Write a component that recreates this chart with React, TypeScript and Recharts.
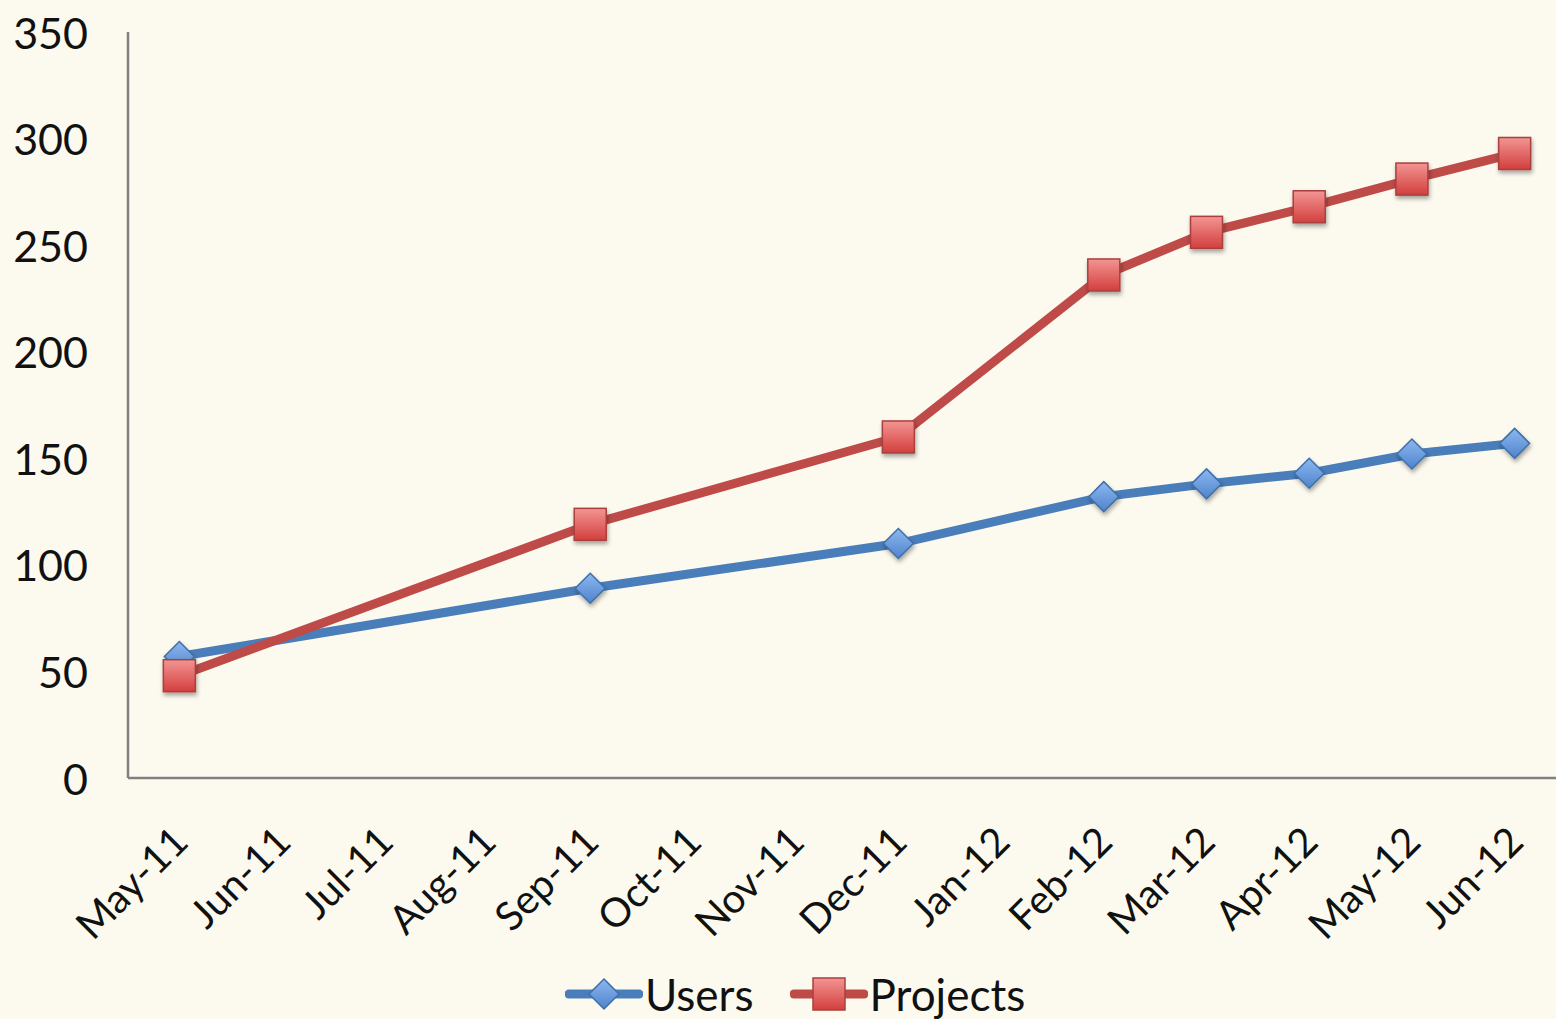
import React from 'react';
import { LineChart, Line, XAxis, YAxis, Legend } from 'recharts';

const months = ['May-11','Jun-11','Jul-11','Aug-11','Sep-11','Oct-11','Nov-11','Dec-11','Jan-12','Feb-12','Mar-12','Apr-12','May-12','Jun-12'];
const users: (number | null)[] = [57, null, null, null, 89, null, null, 110, null, 132, 138, 143, 152, 157];
const projects: (number | null)[] = [48, null, null, null, 119, null, null, 160, null, 236, 256, 268, 281, 293];
const yTicks = [0, 50, 100, 150, 200, 250, 300, 350];

const data = months.map((m, i) => ({ month: m, Users: users[i], Projects: projects[i] }));

const FONT = 'Lato, "Open Sans", sans-serif';
const BLUE = '#4A7EBB';
const RED = '#BE4B48';

const XTick = (props: any) => {
  const { x, y, payload } = props;
  const ax = x + 11;
  const ay = y + 66;
  return (
    <text x={ax} y={ay} textAnchor="end" transform={`rotate(-45, ${ax}, ${ay})`} fill="#111" fontSize={40} fontFamily={FONT}>
      {payload.value}
    </text>
  );
};

const YTick = (props: any) => {
  const { x, y, payload } = props;
  return (
    <text x={x - 40} y={y} textAnchor="end" dominantBaseline="central" fill="#111" fontSize={43} fontFamily={FONT}>
      {payload.value}
    </text>
  );
};

const Diamond = ({ cx, cy, s = 15 }: { cx: number; cy: number; s?: number }) => (
  <path
    d={`M${cx},${cy - s} L${cx + s},${cy} L${cx},${cy + s} L${cx - s},${cy} Z`}
    fill="url(#gBlue)"
    stroke="#3F6FA8"
    strokeWidth={1.5}
    filter="url(#shadow)"
  />
);

const Square = ({ cx, cy, s = 16 }: { cx: number; cy: number; s?: number }) => (
  <rect x={cx - s} y={cy - s} width={2 * s} height={2 * s} fill="url(#gRed)" stroke="#A9403E" strokeWidth={1.5} filter="url(#shadow)" />
);

const renderDiamond = (p: any) => {
  if (p.cy == null || p.value == null) return <g key={p.key ?? `d${p.index}`} />;
  return <Diamond key={p.key ?? `d${p.index}`} cx={p.cx} cy={p.cy} />;
};

const renderSquare = (p: any) => {
  if (p.cy == null || p.value == null) return <g key={p.key ?? `s${p.index}`} />;
  return <Square key={p.key ?? `s${p.index}`} cx={p.cx} cy={p.cy} />;
};

const LegendContent = () => (
  <div style={{ display: 'flex', alignItems: 'center', fontFamily: FONT, fontSize: 44, color: '#111', lineHeight: 1 }}>
    <svg width={78} height={40} style={{ display: 'block' }}>
      <defs>
        <linearGradient id="lgBlue" x1="0" y1="0" x2="0" y2="1">
          <stop offset="0%" stopColor="#8DB8F0" />
          <stop offset="100%" stopColor="#4F83CC" />
        </linearGradient>
        <linearGradient id="lgRed" x1="0" y1="0" x2="0" y2="1">
          <stop offset="0%" stopColor="#F29593" />
          <stop offset="100%" stopColor="#D23F3D" />
        </linearGradient>
      </defs>
      <line x1={4} y1={20} x2={74} y2={20} stroke={BLUE} strokeWidth={9} strokeLinecap="round" />
      <path d="M39,5 L54,20 L39,35 L24,20 Z" fill="url(#lgBlue)" stroke="#3F6FA8" strokeWidth={1.5} />
    </svg>
    <span style={{ marginLeft: 2, marginRight: 36 }}>Users</span>
    <svg width={78} height={40} style={{ display: 'block' }}>
      <line x1={4} y1={20} x2={74} y2={20} stroke={RED} strokeWidth={9} strokeLinecap="round" />
      <rect x={23} y={4} width={32} height={32} fill="url(#lgRed)" stroke="#A9403E" strokeWidth={1.5} />
    </svg>
    <span style={{ marginLeft: 2 }}>Projects</span>
  </div>
);

export default function App() {
  return (
    <div style={{ position: 'fixed', left: 0, top: 0, width: 1556, height: 1019, overflow: 'hidden', background: '#FCFAEF' }}>
      <LineChart width={1566} height={1019} data={data} margin={{ top: 32, right: 0, bottom: 61, left: 0 }}>
        <defs>
          <linearGradient id="gBlue" x1="0" y1="0" x2="0" y2="1">
            <stop offset="0%" stopColor="#8DB8F0" />
            <stop offset="100%" stopColor="#4F83CC" />
          </linearGradient>
          <linearGradient id="gRed" x1="0" y1="0" x2="0" y2="1">
            <stop offset="0%" stopColor="#F29593" />
            <stop offset="100%" stopColor="#D23F3D" />
          </linearGradient>
          <filter id="shadow" x="-50%" y="-50%" width="200%" height="200%">
            <feDropShadow dx="1" dy="3" stdDeviation="2" floodColor="#000" floodOpacity="0.35" />
          </filter>
        </defs>
        <XAxis
          dataKey="month"
          scale="band"
          height={180}
          interval={0}
          tickLine={false}
          tickSize={0}
          tickMargin={0}
          axisLine={{ stroke: '#808080', strokeWidth: 2.5 }}
          tick={<XTick />}
        />
        <YAxis
          domain={[0, 350]}
          ticks={yTicks}
          width={128}
          tickLine={false}
          tickSize={0}
          tickMargin={0}
          axisLine={{ stroke: '#808080', strokeWidth: 2.5 }}
          tick={<YTick />}
        />
        <Legend
          layout="horizontal"
          verticalAlign="middle"
          align="center"
          wrapperStyle={{ top: 972, left: 565, width: 'auto' }}
          content={<LegendContent />}
        />
        <Line
          type="linear"
          dataKey="Users"
          stroke={BLUE}
          strokeWidth={9}
          connectNulls
          dot={renderDiamond}
          activeDot={false}
          isAnimationActive={false}
        />
        <Line
          type="linear"
          dataKey="Projects"
          stroke={RED}
          strokeWidth={9}
          connectNulls
          dot={renderSquare}
          activeDot={false}
          isAnimationActive={false}
        />
      </LineChart>
    </div>
  );
}
